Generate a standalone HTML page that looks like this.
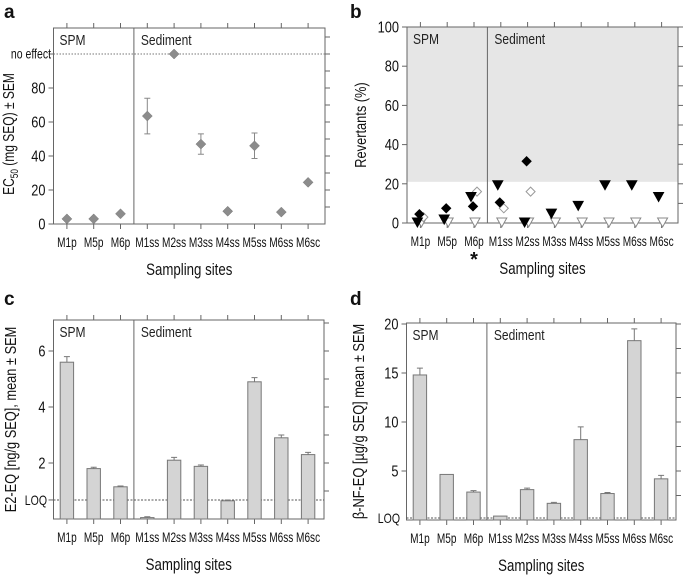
<!DOCTYPE html>
<html><head><meta charset="utf-8"><style>
body{margin:0;background:#fff}
svg{display:block;font-family:"Liberation Sans Narrow","Liberation Sans",sans-serif}
</style></head><body>
<svg id="fig" width="685" height="575" viewBox="0 0 685 575"></svg>
<script>
const categories=["M1p","M5p","M6p","M1ss","M2ss","M3ss","M4ss","M5ss","M6ss","M6sc"];
const ecValues=[3,3,6,63.5,100,47,7.5,46,7,24.5];
const ecErrors=[0,0,0,10.5,0,6,0,7.5,0,0];
const revFilledTri=[0,1.5,13,19,0,4.5,8.5,19,19,13];
const revFilledDiamond=[4.5,7.5,8.5,10.5,31.5,null,null,null,null,null];
const revOpenDiamond=[3,null,16,7.5,16,null,null,null,null,null];
const revOpenTri=[0,0,0,0,0,0,0,0,0,0];
const e2Values=[5.6,1.8,1.15,0.05,2.1,1.88,0.65,4.9,2.9,2.3];
const e2Errors=[0.2,0.05,0.03,0.03,0.1,0.05,0.03,0.15,0.1,0.08];
const bnfValues=[14.8,4.65,2.85,0.4,3.1,1.7,8.2,2.7,18.3,4.2];
const bnfErrors=[0.7,0,0.15,0,0.15,0.1,1.3,0.1,1.2,0.35];
const aTicks=[0,20,40,60,80];
const bTicks=[0,20,40,60,80,100];
const cTicks=[2,4,6];
const dTicks=[5,10,15,20];

const NS="http://www.w3.org/2000/svg";
const svg=document.getElementById('fig');
function el(tag,attrs,parent,txt){const e=document.createElementNS(NS,tag);for(const k in attrs)e.setAttribute(k,attrs[k]);if(txt!==undefined)e.textContent=txt;(parent||svg).appendChild(e);return e;}
const AX="#666";
function condense(t,f){try{const w=t.getComputedTextLength();if(w>0){t.setAttribute('textLength',(w*f).toFixed(1));t.setAttribute('lengthAdjust','spacingAndGlyphs');}}catch(e){}}

function panel(o){
  const g=el('g',{});
  
  
  const step=26.8;
  const xs=i=>o.x0+step*(i+0.5);
  const ys=v=>o.yb-(v-o.vmin)*o.k;
  const R=o.right;
  if(o.grey){const r=el('rect',{x:o.x0,y:o.yt,width:R-o.x0,height:ys(o.grey)-o.yt,fill:"#e6e6e6"},g);}
  const box=el('rect',{x:o.x0,y:o.yt,width:R-o.x0,height:o.yb-o.yt,fill:"none",stroke:AX,"stroke-width":1},g);
  
  const sx=o.x0+step*3;
  el('line',{x1:sx,x2:sx,y1:o.yt,y2:o.yb,stroke:AX},g);
  const t1=el('text',{x:o.x0+6,y:o.yt+17,"font-size":15,fill:"#222"},g,"SPM");condense(t1,0.8);
  const t2=el('text',{x:sx+7,y:o.yt+17,"font-size":15,fill:"#222"},g,"Sediment");condense(t2,0.8);
  categories.forEach((c,i)=>{
    const x=xs(i);
    el('line',{x1:x,x2:x,y1:o.yt-5,y2:o.yt,stroke:AX},g);
    el('line',{x1:x,x2:x,y1:o.yb,y2:o.yb+5,stroke:AX},g);
    const t=el('text',{x:x,y:o.yb+23,"font-size":14,"text-anchor":"middle",fill:"#111"},g,c);
    
    
    condense(t,0.72);
  });
  o.ticks.forEach(v=>{
    const y=ys(v);
    el('line',{x1:o.x0-5,x2:o.x0,y1:y,y2:y,stroke:AX},g);
    const t=el('text',{x:o.x0-8,y:y+5.5,"font-size":16,"text-anchor":"end",fill:"#111"},g,String(v));
    
    
    condense(t,0.8);
  });
  for(let v=o.minorStart;v<=o.vmax+1e-9;v+=o.minor){const y=ys(v);if(y<o.yt-0.5)break;el('line',{x1:R,x2:R+5,y1:y,y2:y,stroke:AX},g);}
  const xt=el('text',{x:(o.x0+R)/2,y:o.yb+51,"font-size":17,"text-anchor":"middle",fill:"#111"},g,"Sampling sites");
  
  condense(xt,0.78);
  const cy=o.titleY||(o.yt+o.yb)/2, tx=o.titleX;
  const yt=el('text',{x:tx,y:cy,"font-size":16,"text-anchor":"middle",fill:"#111",transform:`rotate(-90 ${tx} ${cy})`},g);
  yt.innerHTML=o.ytitle;
  
  condense(yt,o.titleC||0.8);
  const pl=el('text',{x:o.labx,y:o.laby,"font-size":19,"font-weight":"bold",fill:"#111"},g,o.letter);
  
  return {g,xs,ys,R};
}

// Panel a
(function(){
  const p=panel({name:'panel-a-ec50',x0:53.5,right:325,yt:28,yb:224,vmin:0,vmax:115,k:1.7,ticks:aTicks,minor:10,minorStart:10,titleX:14,titleY:134,titleC:0.75,
    ytitle:'EC<tspan font-size="11" dy="4">50</tspan><tspan dy="-4"> (mg SEQ) ± SEM</tspan>',letter:'a',labx:4,laby:18});
  const y=p.ys(100);
  el('line',{x1:53.5,x2:325,y1:y,y2:y,stroke:"#777","stroke-dasharray":"1.5,1.5"},p.g);
  el('line',{x1:48.5,x2:53.5,y1:y,y2:y,stroke:AX},p.g);
  const ne=el('text',{x:51,y:y+4.5,"font-size":14,"text-anchor":"end",fill:"#111"},p.g,"no effect");condense(ne,0.75);
  ecValues.forEach((v,i)=>{
    const x=p.xs(i),yy=p.ys(v);
    if(ecErrors[i]){
      const e1=p.ys(v+ecErrors[i]),e2=p.ys(v-ecErrors[i]);
      const eb=el('path',{d:`M${x},${e1}V${e2}M${x-3},${e1}H${x+3}M${x-3},${e2}H${x+3}`,stroke:"#888",fill:"none"},p.g);
      
    }
    const m=el('path',{d:`M${x},${yy-5}L${x+5},${yy}L${x},${yy+5}L${x-5},${yy}Z`,fill:"#8c8c8c",stroke:"#777","stroke-width":0.5},p.g);
    
  });
})();

// Panel b
(function(){
  const p=panel({name:'panel-b-revertants',x0:407,right:678,yt:27,yb:223,vmin:0,vmax:100,k:1.96,ticks:bTicks,minor:10,minorStart:10,grey:21,titleX:366,
    ytitle:'Revertants (%)',letter:'b',labx:350,laby:18});
  function tri(x,y){return `M${x-5},${y-5}H${x+5}L${x},${y+4}Z`;}
  function dia(x,y){return `M${x},${y-4.5}L${x+4.5},${y}L${x},${y+4.5}L${x-4.5},${y}Z`;}
  const series=[[revOpenTri,1,'tri',"#fff","#888",'revertant-open-triangle'],[revOpenDiamond,3,'dia',"#fff","#999",'revertant-open-diamond'],
    [revFilledTri,-3,'tri',"#000","#000",'revertant-filled-triangle'],[revFilledDiamond,-1,'dia',"#000","#000",'revertant-filled-diamond']];
  series.forEach(s=>{
    s[0].forEach((v,i)=>{
      if(v===null)return;
      const x=p.xs(i)+s[1],y=p.ys(v);
      const m=el('path',{d:s[2]=='tri'?tri(x,y):dia(x,y),fill:s[3],stroke:s[4],"stroke-width":1},p.g);
      
      
    });
  });
  el('text',{x:p.xs(2),y:266,"font-size":20,"text-anchor":"middle","font-weight":"bold",fill:"#111"},p.g,"*");
})();

function bars(p,vals,errs,name){
  vals.forEach((v,i)=>{
    const x=p.xs(i),y=p.ys(v),y0=p.ys(0);
    if(errs[i]){const e=p.ys(v+errs[i]);el('path',{d:`M${x},${y}V${e}M${x-3},${e}H${x+3}`,stroke:"#777",fill:"none"},p.g);}
    const r=el('rect',{x:x-6.7,y:Math.min(y,y0),width:13.4,height:Math.max(1,Math.abs(y0-y)),fill:"#d4d4d4",stroke:"#777","stroke-width":1},p.g);
    
    
  });
}
// Panel c
(function(){
  const p=panel({name:'panel-c-e2eq',x0:53.5,right:324,yt:320,yb:519,vmin:0,vmax:7.1,k:28,ticks:cTicks,minor:1,minorStart:1,titleX:16,
    ytitle:'E2-EQ [ng/g SEQ], mean ± SEM',letter:'c',labx:4,laby:305});
  const y=p.ys(0.68);
  el('line',{x1:53.5,x2:324,y1:y,y2:y,stroke:"#555","stroke-dasharray":"2,1.5"},p.g);
  el('line',{x1:48.5,x2:53.5,y1:y,y2:y,stroke:AX},p.g);
  const l=el('text',{x:47,y:y+5,"font-size":14,"text-anchor":"end",fill:"#111"},p.g,"LOQ");condense(l,0.75);
  bars(p,e2Values,e2Errors,'e2eq-bar');
})();
// Panel d
(function(){
  const p=panel({name:'panel-d-bnfeq',x0:406.5,right:676,yt:323,yb:520,vmin:0,vmax:20,k:9.8,ticks:dTicks,minor:2.5,minorStart:2.5,titleX:364,
    ytitle:'β-NF-EQ [µg/g SEQ] mean ± SEM',letter:'d',labx:350,laby:305});
  const y=p.ys(0.2);
  el('line',{x1:406.5,x2:676,y1:y,y2:y,stroke:"#555","stroke-dasharray":"2,1.5"},p.g);
  const l=el('text',{x:400,y:y+5,"font-size":14,"text-anchor":"end",fill:"#111"},p.g,"LOQ");condense(l,0.75);
  bars(p,bnfValues,bnfErrors,'bnfeq-bar');
})();
</script>
</body></html>
